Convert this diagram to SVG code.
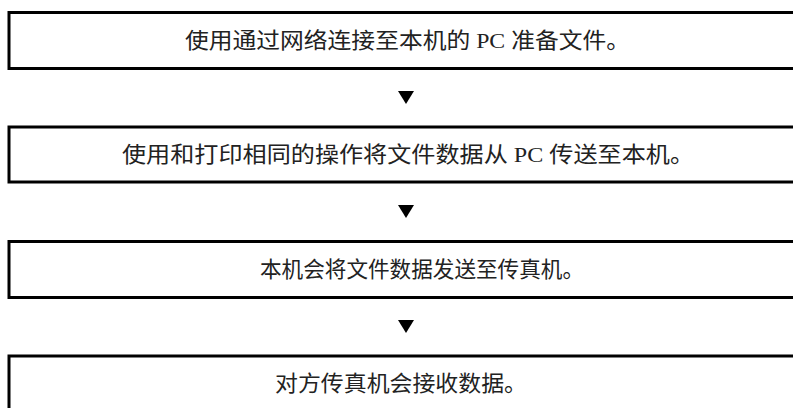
<svg xmlns="http://www.w3.org/2000/svg" width="793" height="408" viewBox="0 0 793 408">
<style>
.box{fill:#fff;stroke:#000;stroke-width:3}
.lbl{font-family:"Liberation Serif","Noto Sans CJK SC",serif;font-size:22px;fill:#222}
.arr{fill:#000}
</style>
<rect width="793" height="408" fill="#fff"/>
<g id="step1"><rect class="box" x="9" y="12.5" width="800" height="56"/><text class="lbl" x="185" y="48" textLength="445" lengthAdjust="spacingAndGlyphs">使用通过网络连接至本机的 PC 准备文件。</text></g>
<g id="step2"><rect class="box" x="9" y="127" width="800" height="55"/><text class="lbl" x="122" y="162" textLength="572" lengthAdjust="spacingAndGlyphs">使用和打印相同的操作将文件数据从 PC 传送至本机。</text></g>
<g id="step3"><rect class="box" x="9" y="241.5" width="800" height="56"/><text class="lbl" x="260" y="277" textLength="324" lengthAdjust="spacingAndGlyphs">本机会将文件数据发送至传真机。</text></g>
<g id="step4"><rect class="box" x="9" y="356" width="800" height="80"/><text class="lbl" x="275" y="391" textLength="252" lengthAdjust="spacingAndGlyphs">对方传真机会接收数据。</text></g>
<g id="connectors">
<polygon class="arr" points="398,91 414,91 406,104"/>
<polygon class="arr" points="398,205 414,205 406,218"/>
<polygon class="arr" points="398,320 414,320 406,333"/>
</g>
</svg>
